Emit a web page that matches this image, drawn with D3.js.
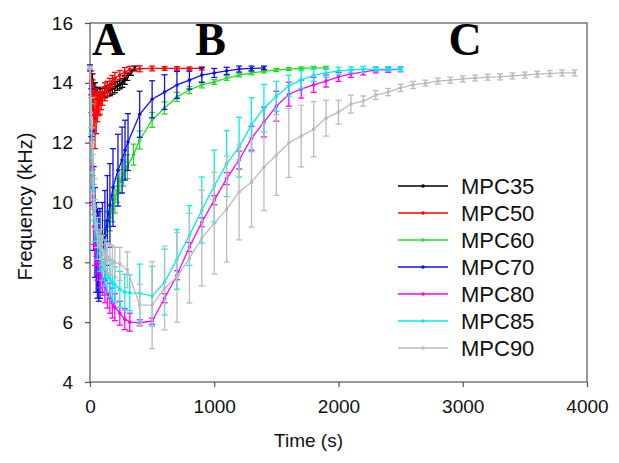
<!DOCTYPE html>
<html>
<head>
<meta charset="utf-8">
<script src="https://cdn.jsdelivr.net/npm/d3@7"></script>
<style>
  body { margin: 0; background: #fff; }
  text { font-family: "Liberation Sans", Arial, sans-serif; }
</style>
</head>
<body>
<div id="chart"></div>
<script>
const width = 619;
const height = 463;

// series data: time (s), frequency (kHz), error (kHz)
const t35 = [0, 20, 40, 60, 80, 100, 120, 140, 160, 180, 200, 220, 240, 260, 280, 300, 330, 360];
const f35 = [14.5, 14.1, 13.8, 13.65, 13.6, 13.62, 13.68, 13.72, 13.75, 13.8, 13.85, 13.9, 13.95, 14.0, 14.1, 14.2, 14.35, 14.48];
const e35 = [0.05, 0.2, 0.2, 0.2, 0.2, 0.2, 0.18, 0.18, 0.18, 0.18, 0.18, 0.15, 0.15, 0.15, 0.15, 0.12, 0.1, 0.08];

const t50 = [0, 10, 20, 30, 40, 50, 60, 70, 80, 90, 100, 120, 140, 160, 180, 200, 240, 280, 320, 400, 500, 600, 700, 800, 900];
const f50 = [14.5, 14.0, 13.5, 13.1, 12.8, 13.0, 13.2, 13.3, 13.3, 13.4, 13.55, 13.7, 13.8, 13.9, 14.05, 14.15, 14.26, 14.36, 14.45, 14.47, 14.48, 14.48, 14.48, 14.48, 14.48];
const e50 = [0.05, 0.4, 0.6, 0.8, 1.0, 0.7, 0.5, 0.4, 0.35, 0.3, 0.3, 0.3, 0.25, 0.25, 0.2, 0.2, 0.15, 0.15, 0.1, 0.1, 0.08, 0.06, 0.06, 0.05, 0.05];

const t60 = [0, 10, 20, 30, 40, 50, 60, 70, 80, 100, 120, 140, 160, 180, 200, 220, 240, 270, 300, 350, 400, 500, 600, 700, 800, 900, 1000, 1100, 1200, 1300, 1400, 1500, 1600, 1700, 1800, 1900];
const f60 = [14.5, 13.0, 11.5, 10.2, 9.3, 8.8, 8.5, 8.4, 8.4, 8.6, 8.9, 9.2, 9.5, 9.8, 10.1, 10.4, 10.7, 10.95, 11.2, 11.6, 12.09, 12.76, 13.16, 13.53, 13.76, 13.93, 14.03, 14.16, 14.26, 14.33, 14.38, 14.43, 14.46, 14.48, 14.5, 14.5];
const e60 = [0.05, 0.5, 0.6, 0.6, 0.6, 0.6, 0.6, 0.55, 0.55, 0.5, 0.5, 0.5, 0.45, 0.45, 0.45, 0.4, 0.4, 0.4, 0.4, 0.35, 0.3, 0.25, 0.2, 0.15, 0.12, 0.1, 0.08, 0.08, 0.06, 0.06, 0.05, 0.05, 0.05, 0.05, 0.05, 0.05];

const t70 = [0, 10, 20, 30, 40, 50, 60, 70, 80, 100, 120, 140, 160, 185, 225, 258, 282, 306, 400, 500, 600, 700, 800, 900, 1000, 1100, 1200, 1300, 1400];
const f70 = [14.5, 13.0, 11.2, 9.8, 9.0, 8.5, 8.3, 8.2, 8.3, 8.5, 8.9, 9.4, 9.9, 10.5, 11.08, 11.42, 11.75, 12.02, 12.95, 13.45, 13.69, 13.93, 14.09, 14.26, 14.33, 14.4, 14.46, 14.48, 14.5];
const e70 = [0.1, 0.8, 1.2, 1.4, 1.5, 1.5, 1.5, 1.5, 1.5, 1.5, 1.5, 1.5, 1.4, 1.3, 1.2, 1.1, 1.0, 0.95, 0.77, 0.62, 0.58, 0.45, 0.3, 0.25, 0.15, 0.12, 0.1, 0.08, 0.06];

const t80 = [0, 10, 20, 30, 40, 60, 80, 100, 120, 140, 160, 180, 200, 240, 280, 320, 400, 500, 600, 700, 800, 900, 1000, 1100, 1200, 1300, 1400, 1500, 1600, 1700, 1800, 1900, 2000, 2100, 2200, 2300, 2400, 2500];
const f80 = [14.5, 12.5, 10.5, 9.2, 8.5, 8.0, 7.7, 7.45, 7.2, 6.97, 6.8, 6.64, 6.5, 6.3, 6.1, 6.0, 5.98, 6.03, 6.8, 7.57, 8.51, 9.34, 10.08, 10.8, 11.42, 12.15, 12.69, 13.22, 13.62, 13.79, 13.93, 14.06, 14.2, 14.3, 14.36, 14.43, 14.43, 14.45];
const e80 = [0.05, 0.5, 0.6, 0.6, 0.6, 0.6, 0.55, 0.55, 0.55, 0.5, 0.5, 0.5, 0.45, 0.4, 0.35, 0.3, 0.1, 0.1, 0.15, 0.15, 0.15, 0.15, 0.15, 0.2, 0.3, 0.4, 0.5, 0.5, 0.4, 0.3, 0.25, 0.2, 0.15, 0.12, 0.1, 0.1, 0.08, 0.08];

const t85 = [0, 10, 20, 30, 40, 60, 80, 100, 120, 140, 160, 180, 200, 240, 280, 320, 400, 500, 600, 700, 800, 900, 1000, 1100, 1200, 1300, 1400, 1500, 1600, 1700, 1800, 1900, 2000, 2100, 2200, 2300, 2400, 2500];
const f85 = [14.5, 12.8, 11.0, 10.0, 9.3, 8.7, 8.3, 8.0, 7.8, 7.6, 7.45, 7.35, 7.25, 7.1, 7.0, 6.98, 6.97, 6.87, 7.34, 8.1, 8.9, 9.75, 10.55, 11.3, 11.85, 12.6, 13.15, 13.55, 13.9, 14.1, 14.25, 14.33, 14.4, 14.43, 14.45, 14.46, 14.46, 14.46];
const e85 = [0.05, 0.5, 0.6, 0.6, 0.6, 0.6, 0.6, 0.6, 0.6, 0.6, 0.6, 0.6, 0.6, 0.6, 0.6, 0.6, 0.97, 1.0, 1.1, 1.0, 1.0, 1.1, 1.2, 1.1, 1.0, 0.9, 0.8, 0.5, 0.35, 0.3, 0.2, 0.15, 0.12, 0.1, 0.1, 0.08, 0.08, 0.08];

const t90 = [0, 10, 20, 30, 40, 60, 80, 100, 120, 140, 160, 180, 200, 240, 300,
  400, 500, 600, 700, 800, 900, 1000, 1100, 1200, 1300, 1400, 1500, 1600, 1700, 1800, 1900, 2000, 2100,
  2200, 2300, 2400, 2500, 2600, 2700, 2800, 2900, 3000, 3100, 3200, 3300, 3400, 3500, 3600, 3700, 3800, 3900];
const f90 = [14.5, 13.0, 11.5, 10.3, 9.6, 9.0, 8.6, 8.4, 8.25, 8.15, 8.1, 8.05, 8.0, 7.95, 7.75,
  6.57, 6.57, 7.14, 7.5, 8.14, 8.81, 9.31, 9.78, 10.35, 10.68, 11.18, 11.59, 11.99, 12.22, 12.45, 12.82, 13.02, 13.29,
  13.39, 13.59, 13.69, 13.83, 13.93, 13.99, 14.06, 14.09, 14.13, 14.16, 14.19, 14.2, 14.23, 14.26, 14.29, 14.31, 14.33, 14.33];
const e90 = [0.05, 0.5, 0.5, 0.5, 0.5, 0.5, 0.5, 0.5, 0.5, 0.5, 0.5, 0.5, 0.5, 0.55, 0.6,
  0.7, 1.45, 1.4, 1.5, 1.5, 1.6, 1.7, 1.77, 1.6, 1.5, 1.45, 1.35, 1.15, 1.03, 0.92, 0.6, 0.4, 0.3,
  0.17, 0.15, 0.12, 0.12, 0.12, 0.1, 0.1, 0.1, 0.1, 0.1, 0.1, 0.1, 0.1, 0.1, 0.1, 0.1, 0.1, 0.1];

const seriesNames = ["MPC35", "MPC50", "MPC60", "MPC70", "MPC80", "MPC85", "MPC90"];
const seriesColors = ["#000000", "#ff0000", "#22dd22", "#1010ee", "#ff00ff", "#00eeee", "#bbbbbb"];
const xTicks = [0, 1000, 2000, 3000, 4000];
const yTicks = [4, 6, 8, 10, 12, 14, 16];
const panelLabels = [{ text: "A", t: 0 }, { text: "B", t: 830 }, { text: "C", t: 2870 }];

const series = [
  { t: t35, f: f35, e: e35 },
  { t: t50, f: f50, e: e50 },
  { t: t60, f: f60, e: e60 },
  { t: t70, f: f70, e: e70 },
  { t: t80, f: f80, e: e80 },
  { t: t85, f: f85, e: e85 },
  { t: t90, f: f90, e: e90 }
].map((s, i) => ({
  name: seriesNames[i],
  color: seriesColors[i],
  points: s.t.map((t, j) => ({ t: t, f: s.f[j], e: s.e[j] }))
}));

const plotLeft = 90, plotRight = 587, plotTop = 23, plotBottom = 382;

const x = d3.scaleLinear().domain([0, 4000]).range([plotLeft, plotRight]);
const y = d3.scaleLinear().domain([4, 16]).range([plotBottom, plotTop]);

const svg = d3.select("#chart")
  .append("svg")
  .attr("width", width)
  .attr("height", height);

// frame
svg.append("rect")
  .attr("x", plotLeft)
  .attr("y", plotTop)
  .attr("width", plotRight - plotLeft)
  .attr("height", plotBottom - plotTop)
  .attr("fill", "none")
  .attr("stroke", "#555")
  .attr("stroke-width", 1.2);

// axes
const xAxis = svg.append("g")
  .attr("transform", `translate(0,${plotBottom})`)
  .call(d3.axisBottom(x).tickValues(xTicks).tickSize(5).tickPadding(13).tickFormat(d3.format("d")));

const yAxis = svg.append("g")
  .attr("transform", `translate(${plotLeft},0)`)
  .call(d3.axisLeft(y).tickValues(yTicks).tickSize(5).tickPadding(12));

[xAxis, yAxis].forEach(g => {
  g.select(".domain").remove();
  g.selectAll(".tick line").attr("stroke", "#555").attr("stroke-width", 1.2);
  g.selectAll(".tick text")
    .attr("font-size", "19px")
    .attr("font-family", "Liberation Sans, Arial, sans-serif")
    .attr("fill", "#111");
});

// axis titles
svg.append("text")
  .attr("x", (plotLeft + plotRight) / 2 - 30)
  .attr("y", 447)
  .attr("text-anchor", "middle")
  .attr("font-size", "19px")
  .attr("fill", "#111")
  .text("Time (s)");

svg.append("text")
  .attr("transform", `translate(32,${(plotTop + plotBottom) / 2 + 4}) rotate(-90)`)
  .attr("text-anchor", "middle")
  .attr("font-size", "20px")
  .attr("fill", "#111")
  .text("Frequency (kHz)");

// series
const line = d3.line()
  .x(d => x(d.t))
  .y(d => y(d.f));

series.forEach(s => {
  const g = svg.append("g");

  g.selectAll("line.bar")
    .data(s.points)
    .enter()
    .append("line")
    .attr("x1", d => x(d.t))
    .attr("x2", d => x(d.t))
    .attr("y1", d => y(d.f - d.e))
    .attr("y2", d => y(d.f + d.e))
    .attr("stroke", s.color)
    .attr("stroke-width", 1.3);

  [-1, 1].forEach(sign => {
    g.selectAll(null)
      .data(s.points)
      .enter()
      .append("line")
      .attr("x1", d => x(d.t) - 3)
      .attr("x2", d => x(d.t) + 3)
      .attr("y1", d => y(d.f + sign * d.e))
      .attr("y2", d => y(d.f + sign * d.e))
      .attr("stroke", s.color)
      .attr("stroke-width", 1.3);
  });

  g.append("path")
    .datum(s.points)
    .attr("d", line)
    .attr("fill", "none")
    .attr("stroke", s.color)
    .attr("stroke-width", 1.3);

  g.selectAll("circle")
    .data(s.points)
    .enter()
    .append("circle")
    .attr("cx", d => x(d.t))
    .attr("cy", d => y(d.f))
    .attr("r", 1.8)
    .attr("fill", s.color);
});

// panel labels (serif, bold)
svg.selectAll("text.panel")
  .data(panelLabels)
  .enter()
  .append("text")
  .attr("class", "panel")
  .attr("x", d => x(d.t) + 2)
  .attr("y", 55)
  .style("font-family", "'Liberation Serif', 'Times New Roman', serif")
  .style("font-weight", "bold")
  .style("font-size", "46px")
  .attr("fill", "#000")
  .text(d => d.text);

// legend
const legend = svg.append("g");
series.forEach((s, i) => {
  const ly = 186 + i * 27;
  legend.append("line")
    .attr("x1", 398)
    .attr("x2", 448)
    .attr("y1", ly)
    .attr("y2", ly)
    .attr("stroke", s.color)
    .attr("stroke-width", 1.5);
  legend.append("circle")
    .attr("cx", 423)
    .attr("cy", ly)
    .attr("r", 1.8)
    .attr("fill", s.color);
  legend.append("text")
    .attr("x", 461)
    .attr("y", ly + 8)
    .attr("font-size", "22px")
    .attr("fill", "#111")
    .text(s.name);
});
</script>
</body>
</html>
